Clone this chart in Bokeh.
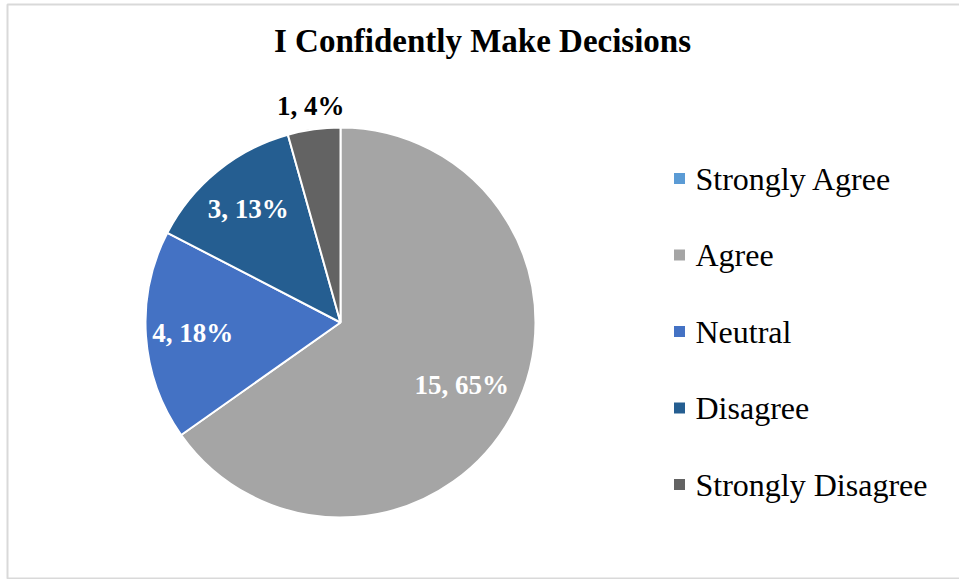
import numpy as np
from bokeh.plotting import figure
from bokeh.models import Range1d, ColumnDataSource
from bokeh.core.properties import value
from bokeh.embed import file_html
from bokeh.resources import INLINE

title = "I Confidently Make Decisions"
categories = ["Strongly Agree", "Agree", "Neutral", "Disagree", "Strongly Disagree"]
counts = [0, 15, 4, 3, 1]
percent_labels = ["0%", "65%", "18%", "13%", "4%"]
colors = ["#5B9BD5", "#A5A5A5", "#4472C4", "#255E91", "#636363"]

W, H = 959, 579
p = figure(width=W, height=H, output_backend="svg", toolbar_location=None,
           x_range=Range1d(0, W), y_range=Range1d(-H, 0),
           min_border=0)
p.axis.visible = False
p.grid.visible = False
p.outline_line_color = None
p.background_fill_color = "white"
p.border_fill_color = "white"

# chart frame
p.quad(left=[7], right=[W + 5], top=[-4], bottom=[-578], fill_color=None,
       line_color="#d9d9d9", line_width=2)

# pie geometry (screen px, y as negative screen y)
cx, cy, R = 340, -322, 195
total = float(sum(counts))
fr = np.array(counts) / total
cum_end = np.cumsum(fr) * 2 * np.pi
cum_start = cum_end - fr * 2 * np.pi
start = np.pi / 2 - cum_start
end = np.pi / 2 - cum_end
idx = [i for i, c in enumerate(counts) if c > 0]

src = ColumnDataSource(dict(
    x=[cx] * len(idx), y=[cy] * len(idx),
    start=[start[i] for i in idx], end=[end[i] for i in idx],
    color=[colors[i] for i in idx]))
p.wedge(x="x", y="y", radius=R, start_angle="start", end_angle="end",
        direction="clock", fill_color="color", line_color="white",
        line_width=2, source=src)

# data labels
rfac = {1: 0.70, 2: 0.76, 3: 0.75, 4: 1.12}
lx, ly, lt, lc = [], [], [], []
for i in idx:
    mid = (cum_start[i] + cum_end[i]) / 2
    r = R * rfac.get(i, 0.72)
    lx.append(cx + r * np.sin(mid))
    ly.append(cy + r * np.cos(mid))
    lt.append(f"{counts[i]}, {percent_labels[i]}")
    lc.append("black" if rfac.get(i, 0.72) > 1 else "white")
p.text(x=lx, y=ly, text=lt, text_color=lc, text_font=value("Liberation Serif"),
       text_font_style="bold", text_font_size="27px", text_align="center",
       text_baseline="middle")

# title
p.text(x=[482], y=[-40], text=[title], text_font=value("Liberation Serif"),
       text_font_style="bold", text_font_size="33px", text_align="center",
       text_baseline="middle", text_color="black")

# legend
leg_x, leg_y0, leg_dy = 679, -178, 76.5
ly2 = [leg_y0 - k * leg_dy for k in range(len(categories))]
p.scatter(x=[leg_x] * len(categories), y=ly2, marker="square", size=11,
          fill_color=colors, line_color=None)
p.text(x=[leg_x + 16] * len(categories), y=ly2, text=categories,
       text_font=value("Liberation Serif"), text_font_size="32px",
       text_align="left", text_baseline="middle", text_color="black")

open("out.html", "w").write(file_html(p, INLINE))
